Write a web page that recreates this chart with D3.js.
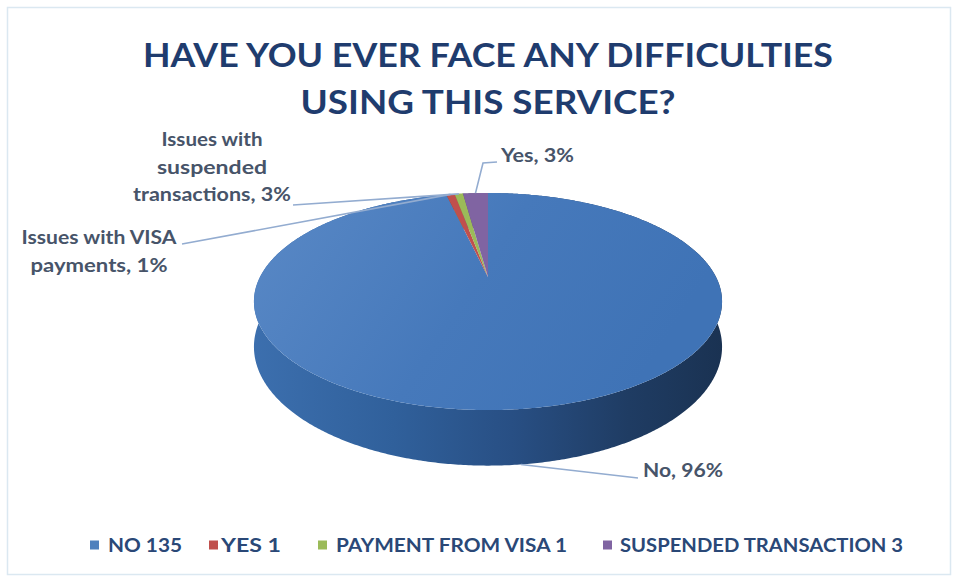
<!DOCTYPE html>
<html>
<head>
<meta charset="utf-8">
<script src="https://cdn.jsdelivr.net/npm/d3@7"></script>
<style>
  html, body { margin: 0; padding: 0; background: #ffffff; }
  svg { display: block; }
  text { font-family: "Lato", "Open Sans", "Liberation Sans", sans-serif; font-weight: bold; }
</style>
</head>
<body>
<svg id="chart" width="960" height="580"></svg>
<script>
// Survey answers
const categories = ["NO", "YES", "PAYMENT FROM VISA", "SUSPENDED TRANSACTION"];
const values = [135, 1, 1, 3];
// Data labels printed next to each slice (one entry per line of text)
const sliceLabels = [
  ["No, 96%"],
  ["Issues with VISA", "payments, 1%"],
  ["Issues with", "suspended", "transactions, 3%"],
  ["Yes, 3%"]
];
const titleLines = ["HAVE YOU EVER FACE ANY DIFFICULTIES", "USING THIS SERVICE?"];

// Styling
const sliceColors = ["#4f81bd", "#c0504d", "#9bbb59", "#8064a2"];
const W = 960, H = 580;

// Perspective model of the tilted pie: centre, radii, foreshortening and thickness
const CX = 488, CY = 277, A = 103, B = 228, K = 0.226, D0 = 43;
function proj(angle, r, depth) {
  const u = Math.sin(angle) * r, v = -Math.cos(angle) * r;
  const w = 1 - K * v;
  return [CX + B * u / w, CY + A * v / w + depth * D0 / w];
}
function arcPoints(a0, a1, depth) {
  const n = Math.max(2, Math.ceil(Math.abs(a1 - a0) / (Math.PI / 360)));
  return d3.range(n + 1).map(i => proj(a0 + (a1 - a0) * i / n, 1, depth));
}

const svg = d3.select("#chart");
const defs = svg.append("defs");

// frame
svg.append("rect")
  .attr("x", 7.5).attr("y", 7.5).attr("width", 943).attr("height", 567)
  .attr("fill", "#ffffff").attr("stroke", "#dbe8f1").attr("stroke-width", 1.5);

// gradients
const sideGrad = defs.append("linearGradient").attr("id", "sideGrad")
  .attr("gradientUnits", "userSpaceOnUse")
  .attr("x1", CX - B * 1.03).attr("y1", 0).attr("x2", CX + B * 1.03).attr("y2", 0);
[[0, "#3c6fae"], [0.3, "#30609b"], [0.55, "#284f84"], [0.8, "#1f3c63"], [1, "#1a3252"]]
  .forEach(([o, c]) => sideGrad.append("stop").attr("offset", o).attr("stop-color", c));

const topGrad = defs.append("linearGradient").attr("id", "topGrad")
  .attr("gradientUnits", "userSpaceOnUse")
  .attr("x1", 300).attr("y1", 200).attr("x2", 620).attr("y2", 410);
[[0, "#5686c4"], [0.5, "#4679bb"], [1, "#3f73b6"]]
  .forEach(([o, c]) => topGrad.append("stop").attr("offset", o).attr("stop-color", c));

// slice angles, clockwise from 12 o'clock in data order
const pie = d3.pie().sort(null).value(d => d)(values);

const g = svg.append("g");
const line = d3.line();

// side walls first; the top faces cover their hidden back part
g.selectAll("path.side").data(pie).join("path")
  .attr("class", "side")
  .attr("d", d => {
    const top = arcPoints(d.startAngle, d.endAngle, 0);
    const bot = arcPoints(d.endAngle, d.startAngle, 1);
    return line(top.concat(bot)) + "Z";
  })
  .attr("fill", (d, i) => i === 0 ? "url(#sideGrad)" : d3.color(sliceColors[i]).darker(0.8));

// top faces
g.selectAll("path.top").data(pie).join("path")
  .attr("class", "top")
  .attr("d", d => {
    const pts = [[CX, CY]].concat(arcPoints(d.startAngle, d.endAngle, 0));
    return line(pts) + "Z";
  })
  .attr("fill", (d, i) => i === 0 ? "url(#topGrad)" : sliceColors[i]);

// data labels with leader lines
const labelLayout = [
  { x: 643, y: 477, anchor: "start", widths: [80], via: [], to: [638, 478] },
  { x: 99, y: 244, anchor: "middle", widths: [155, 137], via: [], to: [182, 244] },
  { x: 212, y: 146, anchor: "middle", widths: [101, 110, 158], via: [], to: [293, 205] },
  { x: 501, y: 162, anchor: "start", widths: [73], via: [[483, 163]], to: [497, 162] }
];
const LINE_H = 27.5;

pie.forEach((d, i) => {
  const mid = (d.startAngle + d.endAngle) / 2;
  const front = Math.cos(mid) < 0;          // slice faces the viewer
  const start = proj(mid, 1, front ? 1 : 0);
  const L = labelLayout[i];
  svg.append("path")
    .attr("d", line([start].concat(L.via, [L.to])))
    .attr("fill", "none").attr("stroke", "#93acd0").attr("stroke-width", 1.6);
  const t = svg.append("text")
    .attr("text-anchor", L.anchor)
    .attr("fill", "#475469")
    .attr("font-size", 18);
  sliceLabels[i].forEach((s, j) => {
    t.append("tspan")
      .attr("x", L.x).attr("y", L.y + j * LINE_H)
      .attr("textLength", L.widths[j]).attr("lengthAdjust", "spacingAndGlyphs")
      .text(s);
  });
});

// title
const titleWidths = [690, 375];
titleLines.forEach((s, i) => {
  svg.append("text")
    .attr("x", 488).attr("y", 67 + i * 47)
    .attr("text-anchor", "middle")
    .attr("font-size", 33)
    .attr("fill", "#1f3c6e")
    .attr("textLength", titleWidths[i]).attr("lengthAdjust", "spacingAndGlyphs")
    .text(s);
});

// legend
const legendX = [90, 209, 318, 603];
const legendTextX = [108, 221, 336, 620];
const legendWidths = [74, 60, 231, 283];
const lg = svg.append("g");
categories.forEach((c, i) => {
  lg.append("rect")
    .attr("x", legendX[i]).attr("y", 540.5).attr("width", 9).attr("height", 9)
    .attr("fill", sliceColors[i]);
  lg.append("text")
    .attr("x", legendTextX[i]).attr("y", 552)
    .attr("font-size", 18).attr("fill", "#2a4877")
    .attr("textLength", legendWidths[i]).attr("lengthAdjust", "spacingAndGlyphs")
    .text(c + " " + values[i]);
});
</script>
</body>
</html>
